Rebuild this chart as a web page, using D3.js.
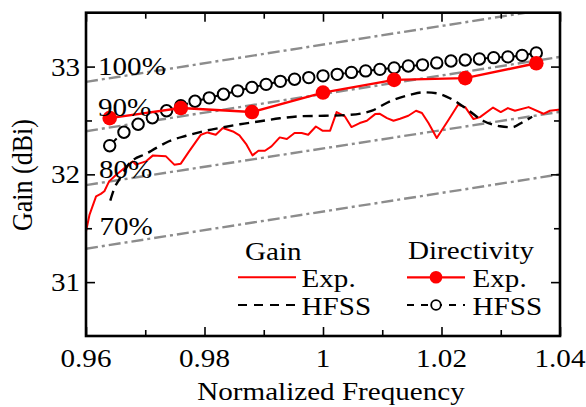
<!DOCTYPE html>
<html><head><meta charset="utf-8">
<script src="https://cdn.jsdelivr.net/npm/d3@7"></script>
<style>
html,body{margin:0;padding:0;background:#fff;}
svg text{font-family:"Liberation Serif","Times New Roman",serif;font-size:26px;fill:#000;}
</style></head>
<body>
<svg id="c" width="586" height="407"></svg>
<script>
// ---------------- data ----------------
const xTickValues = [0.96, 0.98, 1.00, 1.02, 1.04];
const xTickLabels = ["0.96", "0.98", "1", "1.02", "1.04"];
const xMinorTicks = [0.97, 0.99, 1.01, 1.03];
const yTickValues = [31, 32, 33];
const yTickLabels = ["31", "32", "33"];
const yMinorTicks = [31.5, 32.5];

// efficiency reference lines (value at 0.96 and at 1.04)
const effLabels = ["100%", "90%", "80%", "70%"];
const effStart = [32.858, 32.40, 31.90, 31.31];
const effEnd   = [33.55, 33.09, 32.58, 32.00];

// Gain, measured (Exp.)
const gainExpFreq = [0.9600, 0.9606, 0.9617, 0.9625, 0.9631, 0.9639, 0.9651, 0.9665, 0.9679, 0.9684,
  0.9701, 0.9713, 0.9735, 0.9749, 0.9760, 0.9774, 0.9794, 0.9805, 0.9819, 0.9831,
  0.9848, 0.9859, 0.9871, 0.9881, 0.9891, 0.9902, 0.9913, 0.9927, 0.9939, 0.9952,
  0.9964, 0.9975, 0.9988, 0.9999, 1.0012, 1.0023, 1.0037, 1.0048, 1.0062, 1.0074,
  1.0088, 1.0096, 1.0108, 1.0119, 1.0130, 1.0144, 1.0157, 1.0167, 1.0178, 1.0192,
  1.0212, 1.0228, 1.0240, 1.0254, 1.0265, 1.0287, 1.0300, 1.0312, 1.0324, 1.0347,
  1.0372, 1.0383, 1.0397, 1.0400];
const gainExpVal = [31.469, 31.627, 31.796, 31.819, 31.843, 31.935, 31.997, 32.059, 32.120, 32.090,
  32.120, 32.176, 32.167, 32.090, 32.099, 32.213, 32.368, 32.389, 32.368, 32.430,
  32.398, 32.361, 32.275, 32.176, 32.219, 32.219, 32.259, 32.343, 32.328, 32.383,
  32.383, 32.368, 32.444, 32.405, 32.405, 32.578, 32.537, 32.439, 32.476, 32.497,
  32.559, 32.562, 32.522, 32.497, 32.516, 32.544, 32.590, 32.569, 32.476, 32.337,
  32.506, 32.645, 32.624, 32.513, 32.531, 32.620, 32.578, 32.615, 32.590, 32.624,
  32.562, 32.590, 32.599, 32.600];

// Gain, simulated (HFSS)
const gainHfssFreq = [0.9641, 0.9649, 0.9656, 0.9666, 0.9674, 0.9686, 0.9698, 0.9718, 0.9740, 0.9769,
  0.9798, 0.9825, 0.9860, 0.9894, 0.9927, 0.9961, 1.0003, 1.0046, 1.0084, 1.0113,
  1.0147, 1.0169, 1.0192, 1.0219, 1.0243, 1.0270, 1.0299, 1.0319, 1.0338, 1.0353];
const gainHfssVal = [31.757, 31.886, 31.951, 32.044, 32.108, 32.155, 32.182, 32.243, 32.307, 32.358,
  32.400, 32.430, 32.465, 32.493, 32.520, 32.539, 32.544, 32.553, 32.594, 32.678,
  32.738, 32.761, 32.752, 32.692, 32.604, 32.497, 32.446, 32.437, 32.488, 32.534];

// Directivity, measured (Exp.)
const dirExpFreq = [0.964, 0.976, 0.988, 1.000, 1.012, 1.024, 1.036];
const dirExpVal  = [32.522, 32.615, 32.578, 32.759, 32.877, 32.893, 33.031];

// Directivity, simulated (HFSS)
const dirHfssFreq = [0.964, 0.9664, 0.9688, 0.9712, 0.9736, 0.976, 0.9784, 0.9808, 0.9832, 0.9856,
  0.988, 0.9904, 0.9928, 0.9952, 0.9976, 1.000, 1.0024, 1.0048, 1.0072, 1.0096,
  1.012, 1.0144, 1.0168, 1.0192, 1.0216, 1.024, 1.0264, 1.0288, 1.0312, 1.0336, 1.036];
const dirHfssVal = [32.266, 32.391, 32.465, 32.525, 32.590, 32.636, 32.678, 32.710, 32.743, 32.775,
  32.807, 32.835, 32.863, 32.883, 32.898, 32.914, 32.928, 32.946, 32.960, 32.974,
  32.988, 33.006, 33.016, 33.034, 33.052, 33.061, 33.071, 33.083, 33.090, 33.104, 33.127];

// ---------------- layout ----------------
const L = 86, R = 560, T = 12.7, B = 336;
const SX = 1.12; // horizontal stretch of glyphs
const RED = "#ff0000", GRAY = "#8c8c8c";

const svg = d3.select("#c");
const x = d3.scaleLinear().domain([0.96, 1.04]).range([L, R]);
const y = d3.scaleLinear().domain([30.5, 33.5]).range([B, T]);

function txt(px, py, s, anchor) {
  return svg.append("text")
    .attr("transform", `translate(${px},${py}) scale(${SX},1)`)
    .attr("text-anchor", anchor || "start").text(s);
}

svg.append("defs").append("clipPath").attr("id", "clip")
  .append("rect").attr("x", L).attr("y", T).attr("width", R - L).attr("height", B - T);

const plot = svg.append("g").attr("clip-path", "url(#clip)");

// efficiency lines
effLabels.forEach((lab, i) => {
  plot.append("line")
    .attr("x1", x(0.96)).attr("y1", y(effStart[i]))
    .attr("x2", x(1.04)).attr("y2", y(effEnd[i]))
    .attr("stroke", GRAY).attr("stroke-width", 2.4)
    .attr("stroke-dasharray", "12,4,3,4");
});

const line = d3.line().x(d => x(d[0])).y(d => y(d[1]));
const smooth = d3.line().x(d => x(d[0])).y(d => y(d[1])).curve(d3.curveMonotoneX);

// gain exp
plot.append("path").datum(d3.zip(gainExpFreq, gainExpVal))
  .attr("d", line).attr("fill", "none").attr("stroke", RED).attr("stroke-width", 2)
  .attr("stroke-linejoin", "round");
// gain HFSS
plot.append("path").datum(d3.zip(gainHfssFreq, gainHfssVal))
  .attr("d", smooth).attr("fill", "none").attr("stroke", "#000").attr("stroke-width", 2.4)
  .attr("stroke-dasharray", "10,6");
// directivity HFSS
const dh = d3.zip(dirHfssFreq, dirHfssVal);
plot.append("path").datum(dh)
  .attr("d", smooth).attr("fill", "none").attr("stroke", "#000").attr("stroke-width", 2)
  .attr("stroke-dasharray", "10,6");
plot.selectAll("circle.dh").data(dh).enter().append("circle").attr("class", "dh")
  .attr("cx", d => x(d[0])).attr("cy", d => y(d[1])).attr("r", 5.7)
  .attr("fill", "#fff").attr("stroke", "#000").attr("stroke-width", 2);
// directivity exp
const de = d3.zip(dirExpFreq, dirExpVal);
plot.append("path").datum(de)
  .attr("d", line).attr("fill", "none").attr("stroke", RED).attr("stroke-width", 2.4);
plot.selectAll("circle.de").data(de).enter().append("circle").attr("class", "de")
  .attr("cx", d => x(d[0])).attr("cy", d => y(d[1])).attr("r", 7.3).attr("fill", RED);

// efficiency labels
const effLabelPos = [[98, 75], [98, 116], [99, 177.5], [99.5, 235]];
effLabels.forEach((lab, i) => txt(effLabelPos[i][0], effLabelPos[i][1], lab));

// ticks (inward, all four sides)
function ticks(axisFn, scale, vals, size, transform) {
  const g = svg.append("g").attr("transform", transform)
    .call(axisFn(scale).tickValues(vals).tickSize(size).tickFormat(""));
  g.select(".domain").remove();
  g.selectAll(".tick line").attr("stroke", "#000").attr("stroke-width", 1.6);
}
ticks(d3.axisBottom, x, xTickValues, -9, `translate(0,${B})`);
ticks(d3.axisBottom, x, xMinorTicks, -6, `translate(0,${B})`);
ticks(d3.axisTop, x, xTickValues, -9, `translate(0,${T})`);
ticks(d3.axisTop, x, xMinorTicks, -6, `translate(0,${T})`);
ticks(d3.axisLeft, y, yTickValues, -9, `translate(${L},0)`);
ticks(d3.axisLeft, y, yMinorTicks, -6, `translate(${L},0)`);
ticks(d3.axisRight, y, yTickValues, -9, `translate(${R},0)`);
ticks(d3.axisRight, y, yMinorTicks, -6, `translate(${R},0)`);

// frame
svg.append("rect").attr("x", L).attr("y", T).attr("width", R - L).attr("height", B - T)
  .attr("fill", "none").attr("stroke", "#000").attr("stroke-width", 2.6);

// tick labels
xTickValues.forEach((v, i) => txt(x(v), 366.5, xTickLabels[i], "middle"));
yTickValues.forEach((v, i) => txt(80, y(v) + 9, yTickLabels[i], "end"));

// axis titles
txt(331, 400, "Normalized Frequency", "middle");
svg.append("text")
  .attr("transform", `translate(32,175) scale(${SX},1) rotate(-90)`)
  .attr("text-anchor", "middle").text("Gain (dBi)");

// legend
txt(245, 260, "Gain");
txt(408, 259, "Directivity");
svg.append("line").attr("x1", 238).attr("x2", 296).attr("y1", 277.3).attr("y2", 277.3)
  .attr("stroke", RED).attr("stroke-width", 2);
txt(301.5, 287, "Exp.");
svg.append("line").attr("x1", 238).attr("x2", 296).attr("y1", 305).attr("y2", 305)
  .attr("stroke", "#000").attr("stroke-width", 2.2).attr("stroke-dasharray", "9,7");
txt(301.5, 315, "HFSS");
svg.append("line").attr("x1", 407).attr("x2", 465).attr("y1", 277.3).attr("y2", 277.3)
  .attr("stroke", RED).attr("stroke-width", 2.2);
svg.append("circle").attr("cx", 436).attr("cy", 277.3).attr("r", 6.3).attr("fill", RED);
txt(472.5, 287, "Exp.");
svg.append("line").attr("x1", 407).attr("x2", 465).attr("y1", 305).attr("y2", 305)
  .attr("stroke", "#000").attr("stroke-width", 2.2).attr("stroke-dasharray", "7,7");
svg.append("circle").attr("cx", 436).attr("cy", 305).attr("r", 4.8)
  .attr("fill", "#fff").attr("stroke", "#000").attr("stroke-width", 1.8);
txt(472.5, 315, "HFSS");
</script>
</body></html>
